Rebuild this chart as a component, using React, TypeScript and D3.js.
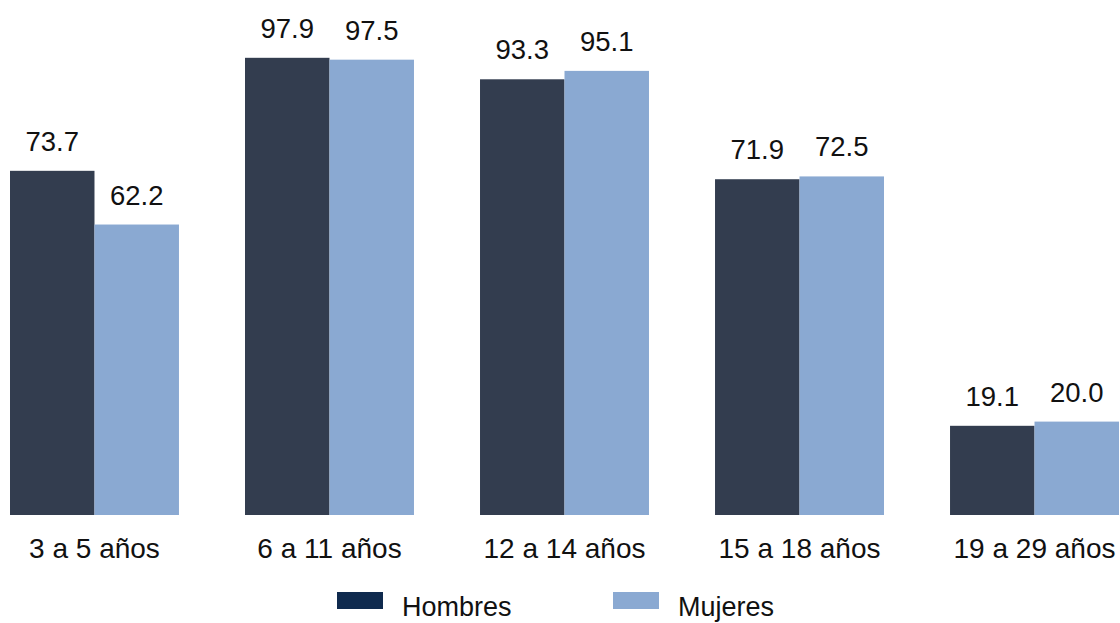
import React, { useRef, useEffect } from 'react';
import * as d3 from 'd3';

const categories = ['3 a 5 años', '6 a 11 años', '12 a 14 años', '15 a 18 años', '19 a 29 años'];
const hombres = [73.7, 97.9, 93.3, 71.9, 19.1];
const mujeres = [62.2, 97.5, 95.1, 72.5, 20.0];
const seriesNames = ['Hombres', 'Mujeres'];

function App() {
  const ref = useRef<SVGSVGElement>(null);

  useEffect(() => {
    const width = 1120;
    const height = 623;
    const baseline = 515;
    const font = '"Liberation Sans", Arial, sans-serif';
    const barColors = ['#333d4f', '#8aa9d2'];
    const legendColors = ['#0f2a4e', '#8aa9d2'];

    const svg = d3.select(ref.current);
    svg.selectAll('*').remove();

    const x0 = d3.scaleBand<string>()
      .domain(categories)
      .range([10, 1119])
      .paddingInner(0.281)
      .paddingOuter(0);

    const x1 = d3.scaleBand<string>()
      .domain(seriesNames)
      .range([0, x0.bandwidth()])
      .padding(0);

    const y = d3.scaleLinear()
      .domain([0, 100])
      .range([baseline, baseline - 467]);

    const data = categories.map((c, i) => ({
      cat: c,
      values: [
        { key: 'Hombres', value: hombres[i] },
        { key: 'Mujeres', value: mujeres[i] },
      ],
    }));

    const groups = svg.append('g')
      .selectAll('g')
      .data(data)
      .join('g')
      .attr('transform', d => `translate(${x0(d.cat)},0)`);

    groups.selectAll('rect')
      .data(d => d.values)
      .join('rect')
      .attr('x', d => x1(d.key)!)
      .attr('y', d => y(d.value))
      .attr('width', x1.bandwidth())
      .attr('height', d => baseline - y(d.value))
      .attr('fill', (d, i) => barColors[i]);

    groups.selectAll('text.val')
      .data(d => d.values)
      .join('text')
      .attr('class', 'val')
      .attr('x', d => x1(d.key)! + x1.bandwidth() / 2)
      .attr('y', d => y(d.value) - 20)
      .attr('text-anchor', 'middle')
      .attr('font-family', font)
      .attr('font-size', 27.5)
      .attr('fill', '#111')
      .text(d => d.value.toFixed(1));

    svg.append('g')
      .selectAll('text')
      .data(categories)
      .join('text')
      .attr('x', d => x0(d)! + x0.bandwidth() / 2)
      .attr('y', 558)
      .attr('text-anchor', 'middle')
      .attr('font-family', font)
      .attr('font-size', 28)
      .attr('fill', '#111')
      .text(d => d);

    // legend
    const legendX = [337, 613];
    const legend = svg.append('g')
      .selectAll('g')
      .data(seriesNames)
      .join('g')
      .attr('transform', (d, i) => `translate(${legendX[i]},592)`);

    legend.append('rect')
      .attr('width', 46)
      .attr('height', 17)
      .attr('fill', (d, i) => legendColors[i]);

    legend.append('text')
      .attr('x', 65)
      .attr('y', 24)
      .attr('font-family', font)
      .attr('font-size', 27)
      .attr('fill', '#111')
      .text(d => d);

    svg.attr('width', width).attr('height', height);
  }, []);

  return (
    <svg
      ref={ref}
      style={{ position: 'absolute', left: 0, top: 0, background: '#fff', display: 'block' }}
    />
  );
}

export default App;
